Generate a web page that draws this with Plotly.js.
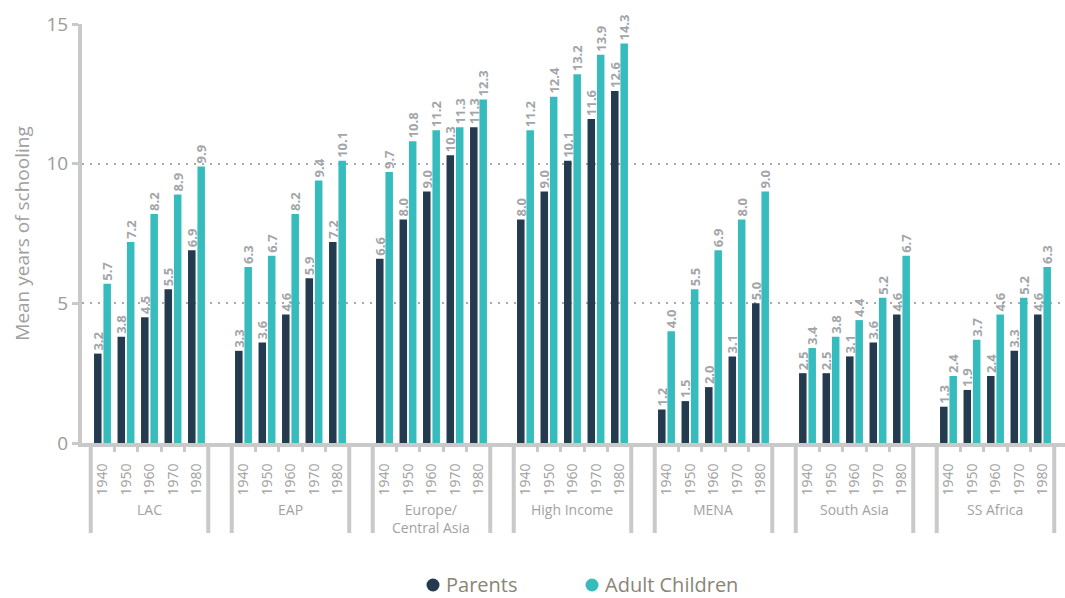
<!DOCTYPE html>
<html>
<head>
<meta charset="utf-8">
<script src="https://cdn.plot.ly/plotly-3.0.1.min.js"></script>
<style>
  html, body { margin: 0; padding: 0; background: #fff; }
  #chart { width: 1065px; height: 598px; }
</style>
</head>
<body>
<div id="chart"></div>
<script>
// Mean years of schooling by region and birth decade
const regions = ["LAC", "EAP", "Europe/<br>Central Asia", "High Income", "MENA", "South Asia", "SS Africa"];
const years = ["1940", "1950", "1960", "1970", "1980"];
const seriesNames = ["Parents", "Adult Children"];

const parents = [
  [3.2, 3.8, 4.5, 5.5, 6.9],    // LAC
  [3.3, 3.6, 4.6, 5.9, 7.2],    // EAP
  [6.6, 8.0, 9.0, 10.3, 11.3],  // Europe/Central Asia
  [8.0, 9.0, 10.1, 11.6, 12.6], // High Income
  [1.2, 1.5, 2.0, 3.1, 5.0],    // MENA
  [2.5, 2.5, 3.1, 3.6, 4.6],    // South Asia
  [1.3, 1.9, 2.4, 3.3, 4.6]     // SS Africa
];
const adultChildren = [
  [5.7, 7.2, 8.2, 8.9, 9.9],
  [6.3, 6.7, 8.2, 9.4, 10.1],
  [9.7, 10.8, 11.2, 11.3, 12.3],
  [11.2, 12.4, 13.2, 13.9, 14.3],
  [4.0, 5.5, 6.9, 8.0, 9.0],
  [3.4, 3.8, 4.4, 5.2, 6.7],
  [2.4, 3.7, 4.6, 5.2, 6.3]
];

const NAVY = "#243a4f";
const TEAL = "#37bcbe";
const seriesColors = [NAVY, TEAL];
const AXIS = "#c9c9c9";
const FONT = "Open Sans, sans-serif";

// Canvas and plot-area geometry (pixels)
const W = 1065, H = 598;
const M = { l: 82, r: 0, t: 24, b: 155 };
const plotW = W - M.l - M.r;
const plotH = H - M.t - M.b;
const toPaperX = px => (px - M.l) / plotW;
const toPaperY = py => (H - M.b - py) / plotH;

// Each region occupies one slot per decade plus one empty slot as a gap
const slot = years.length + 1;
const xPos = [], xTickText = [], yParents = [], yChildren = [];
regions.forEach((r, g) => {
  years.forEach((yr, j) => {
    xPos.push(g * slot + j);
    xTickText.push(yr);
    yParents.push(parents[g][j]);
    yChildren.push(adultChildren[g][j]);
  });
});

// Short ticks between neighbouring decades
const betweenTicks = [];
regions.forEach((r, g) => {
  for (let j = 0; j < years.length - 1; j++) betweenTicks.push(g * slot + j + 0.5);
});

const labelFont = { family: FONT, size: 13, color: "#a2a5a9", weight: 700 };

const barCommon = {
  type: "bar",
  x: xPos,
  texttemplate: "%{y:.1f}",
  textposition: "outside",
  textangle: -90,
  textfont: labelFont,
  constraintext: "none",
  cliponaxis: false,
  showlegend: false,
  hoverinfo: "skip"
};

const traces = [
  Object.assign({}, barCommon, { y: yParents, name: seriesNames[0], marker: { color: seriesColors[0] } }),
  Object.assign({}, barCommon, { y: yChildren, name: seriesNames[1], marker: { color: seriesColors[1] } })
];

// Region brackets under the decade labels
const shapes = [];
const annotations = [];
regions.forEach((r, g) => {
  [g * slot - 0.5, g * slot + years.length - 0.5].forEach(xv => {
    shapes.push({
      type: "line", xref: "x", yref: "paper",
      x0: xv, x1: xv, y0: 0, y1: -90 / plotH,
      line: { color: AXIS, width: 4 }
    });
  });
  annotations.push({
    xref: "x", yref: "paper",
    x: g * slot + (years.length - 1) / 2,
    y: -55 / plotH,
    yanchor: "top",
    text: r, showarrow: false,
    font: { family: FONT, size: 14, color: "#a2a2a2" },
    align: "center"
  });
});

// Key below the chart: round swatch followed by the series name
const keyLeft = [433, 592];   // swatch centres
const keyY = 585;
seriesNames.forEach((name, i) => {
  shapes.push({
    type: "circle", xref: "paper", yref: "paper",
    xsizemode: "pixel", ysizemode: "pixel",
    xanchor: toPaperX(keyLeft[i]), yanchor: toPaperY(keyY),
    x0: -6.5, x1: 6.5, y0: -6.5, y1: 6.5,
    fillcolor: seriesColors[i], line: { width: 0 }
  });
  annotations.push({
    xref: "paper", yref: "paper",
    x: toPaperX(keyLeft[i] + 11), y: toPaperY(keyY - 1),
    xanchor: "left", yanchor: "middle",
    text: name, showarrow: false,
    font: { family: FONT, size: 20, color: "#8a8577" }
  });
});

const pxPerUnit = 23.5;
const xMin = -0.872;

const layout = {
  width: W,
  height: H,
  margin: M,
  paper_bgcolor: "#ffffff",
  plot_bgcolor: "#ffffff",
  barmode: "group",
  bargap: 0.2,
  bargroupgap: 0.2,
  showlegend: false,
  font: { family: FONT, color: "#9b9b9b" },
  xaxis: {
    range: [xMin, xMin + plotW / pxPerUnit],
    tickmode: "array",
    tickvals: xPos,
    ticktext: xTickText,
    tickangle: -90,
    ticks: "",
    ticklabelstandoff: 11,
    tickfont: { family: FONT, size: 14, color: "#a0a0a0" },
    minor: { tickmode: "array", tickvals: betweenTicks, ticks: "outside", ticklen: 5, tickwidth: 3, tickcolor: AXIS, showgrid: false },
    showgrid: false,
    zeroline: false,
    showline: true,
    linecolor: AXIS,
    linewidth: 4,
    automargin: false,
    fixedrange: true
  },
  yaxis: {
    range: [0, 15],
    tickvals: [0, 5, 10, 15],
    ticks: "outside",
    ticklen: 6,
    tickwidth: 3,
    tickcolor: AXIS,
    tickfont: { family: FONT, size: 19, color: "#9b9b9b" },
    ticklabelstandoff: 0,
    showline: true,
    linecolor: AXIS,
    linewidth: 4,
    showgrid: true,
    gridcolor: "#a9a9a9",
    gridwidth: 2,
    griddash: "2px,6px",
    zeroline: false,
    automargin: false,
    title: { text: "Mean years of schooling", font: { family: FONT, size: 19, color: "#a0a0a0" }, standoff: 13 },
    fixedrange: true
  },
  shapes: shapes,
  annotations: annotations
};

Plotly.newPlot("chart", traces, layout, { displayModeBar: false, staticPlot: true });
</script>
</body>
</html>
